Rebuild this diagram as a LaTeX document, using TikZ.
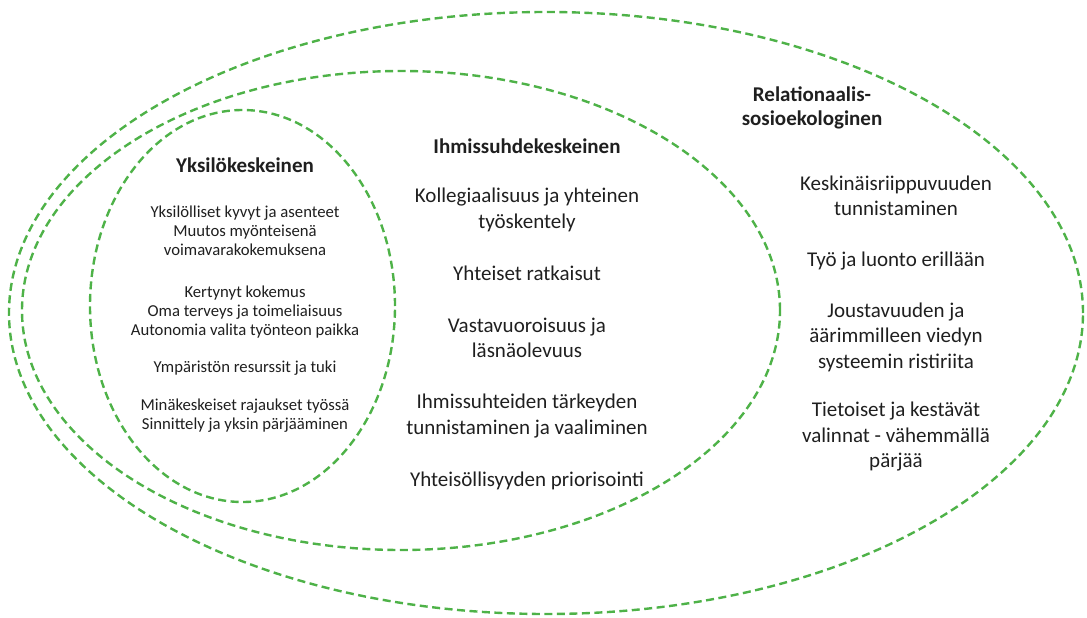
\documentclass[tikz,border=0pt]{standalone}
\usepackage{fontspec}
\setmainfont{Carlito}
\usetikzlibrary{shapes.geometric}
\definecolor{ringgreen}{RGB}{78,178,72}
\tikzset{
  ring/.style={ellipse, draw=ringgreen, line width=2.4pt, dash pattern=on 8pt off 4.5pt, inner sep=0pt},
  head/.style={align=center, font=\fontsize{21}{24.5}\selectfont\bfseries, text=black!88},
  small/.style={align=center, font=\fontsize{16.7}{19.2}\selectfont, text=black!88},
  big/.style={align=center, font=\fontsize{21}{25.5}\selectfont, text=black!88},
}
\begin{document}
\begin{tikzpicture}[x=1pt,y=-1pt]
\useasboundingbox (0,0) rectangle (1087,618);
\node[ring, minimum width=1074pt, minimum height=602pt] (outer) at (546,313) {};
\node[ring, minimum width=758pt, minimum height=479pt] (middle) at (401,310.5) {};
\node[ring, minimum width=305pt, minimum height=392pt] (inner) at (242.5,306) {};
% inner
\node[head] (h1) at (245,165) {Yksilökeskeinen};
\node[small] (a1) at (245,231) {Yksilölliset kyvyt ja asenteet\\Muutos myönteisenä\\voimavarakokemuksena};
\node[small] (a2) at (245,312) {Kertynyt kokemus\\Oma terveys ja toimeliaisuus\\Autonomia valita työnteon paikka};
\node[small] (a3) at (245,368) {Ympäristön resurssit ja tuki};
\node[small] (a4) at (245,416) {Minäkeskeiset rajaukset työssä\\Sinnittely ja yksin pärjääminen};
% middle
\node[head] (h2) at (527,146) {Ihmissuhdekeskeinen};
\node[big] (b1) at (527,210) {Kollegiaalisuus ja yhteinen\\työskentely};
\node[big] (b2) at (527,273) {Yhteiset ratkaisut};
\node[big] (b3) at (527,338) {Vastavuoroisuus ja\\läsnäolevuus};
\node[big] (b4) at (527,416) {Ihmissuhteiden tärkeyden\\tunnistaminen ja vaaliminen};
\node[big] (b5) at (527,481) {Yhteisöllisyyden priorisointi};
% outer
\node[head] (h3) at (812,108) {Relationaalis-\\sosioekologinen};
\node[big] (c1) at (896,196) {Keskinäisriippuvuuden\\tunnistaminen};
\node[big] (c2) at (896,261) {Työ ja luonto erillään};
\node[big] (c3) at (896,337) {Joustavuuden ja\\äärimmilleen viedyn\\systeemin ristiriita};
\node[big] (c4) at (896,437) {Tietoiset ja kestävät\\valinnat - vähemmällä\\pärjää};
\end{tikzpicture}
\end{document}
